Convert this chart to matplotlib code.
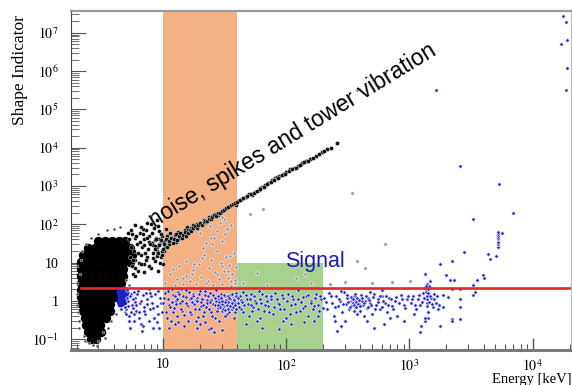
import matplotlib
matplotlib.use('Agg')
import matplotlib.pyplot as plt
from matplotlib.ticker import FixedLocator, FixedFormatter, LogLocator, NullFormatter

# ---- data: (energy keV, shape indicator) ----
x_range = [1.8, 2.05e4]
y_range = [0.052, 3.7e7]

orange_band = [10, 40]
green_band = [40, 200]
green_top = 9.5
threshold = 2.2
threshold_start = 2.15

y_ticks = [0.1, 1, 10, 1e2, 1e3, 1e4, 1e5, 1e6, 1e7]
y_ticklabels = ['$10^{-1}$', '1', '10', '$10^{2}$', '$10^{3}$', '$10^{4}$',
                '$10^{5}$', '$10^{6}$', '$10^{7}$']
x_ticks = [10, 1e2, 1e3, 1e4]
x_ticklabels = ['10', '$10^{2}$', '$10^{3}$', '$10^{4}$']

# dense black core, one row per shape value
core_rows = [
    (36, [2.97, 3.39, 3.86, 4.4, 4.92]),
    (24, [2.47, 2.81, 3.2, 3.65, 4.16, 4.74, 5.4]),
    (15.6, [2.24, 2.56, 2.92, 3.32, 3.79, 4.31, 4.92, 5.6]),
    (10.3, [2.16, 2.47, 2.81, 3.2, 3.65, 4.16, 4.74, 5.4]),
    (6.8, [2.16, 2.47, 2.81, 3.2, 3.65, 4.16, 4.74]),
    (4.46, [2.16, 2.47, 2.81, 3.2, 3.65, 4.16, 4.74]),
    (2.94, [2.16, 2.47, 2.81, 3.2, 3.65, 4.16, 4.56]),
    (1.93, [2.16, 2.47, 2.81, 3.2, 3.65, 4.16]),
    (1.27, [2.16, 2.47, 2.81, 3.2, 3.65, 4.08]),
    (0.84, [2.2, 2.52, 2.87, 3.26, 3.72]),
    (0.55, [2.24, 2.56, 2.92, 3.32, 3.72]),
    (0.36, [2.33, 2.65, 3.03, 3.45]),
    (0.24, [2.37, 2.7, 3.08]),
    (0.157, [2.47, 2.81, 3.14]),
    (0.103, [2.61, 2.87]),
]

# black cloud between the core and the diagonal band
mid_points = [
    (5.6, 8), (5.8, 20), (5.9, 45), (6.0, 12), (6.2, 30), (6.3, 6), (6.5, 60), (6.6, 16),
    (6.8, 25), (7.0, 9), (7.1, 40), (7.3, 70), (7.4, 14), (7.6, 22), (7.8, 50), (8.0, 7),
    (8.1, 32), (8.3, 18), (8.5, 80), (8.6, 11), (8.8, 45), (9.0, 25), (9.2, 6), (9.4, 65),
    (9.6, 14), (9.8, 35), (10.0, 9), (10.3, 20), (10.6, 75), (5.5, 70), (6.0, 95), (7.5, 110),
    (5.2, 60), (9.0, 130), (5.7, 5), (6.4, 10), (6.9, 55), (7.7, 35), (8.4, 28), (9.3, 40),
    (5.3, 40), (5.5, 25), (5.7, 12), (5.9, 7), (6.1, 50), (6.3, 18), (6.5, 35), (6.7, 9),
    (6.9, 75), (7.1, 28), (7.3, 12), (7.5, 45), (7.7, 8), (7.9, 30), (8.1, 60), (8.3, 13),
    (8.6, 38), (8.9, 20), (9.2, 90), (9.5, 10), (9.8, 50), (5.4, 14), (6.0, 4.5), (7.0, 5.5),
    (8.0, 100), (6.6, 85), (5.6, 55), (7.2, 18), (8.7, 27), (9.9, 16),
]

# diagonal "noise, spikes and tower vibration" band
band_points = [
    (8.6, 22), (8.8, 40), (9.0, 15), (9.3, 30), (9.6, 55), (9.8, 20), (10.2, 35), (10.5, 26),
    (10.8, 48), (11.2, 30), (11.5, 60), (12.0, 40), (12.5, 52), (12.8, 35), (13.3, 62),
    (13.7, 45), (14.5, 55), (15.2, 70), (15.8, 85), (16.3, 62), (17.0, 80), (17.5, 95),
    (18.5, 90), (19.5, 110), (20.5, 100), (21.5, 130), (22.5, 115), (23.5, 150), (25, 160),
    (26.5, 185), (28, 170), (29.5, 210), (31, 230), (33, 270), (35, 300), (37, 340), (39, 320),
    (41, 400), (44, 450), (47, 520), (50, 600), (53, 580), (56, 700), (60, 800), (64, 950),
    (68, 1050), (72, 1200), (77, 1400), (82, 1600), (88, 1800), (94, 2000), (100, 2300),
    (108, 2700), (116, 3000), (124, 3400), (135, 4000), (145, 4500), (156, 5000), (175, 6000),
    (195, 7500), (215, 9000), (11.0, 42), (14.0, 60), (16.0, 70), (19.0, 100), (24.0, 140),
    (27.0, 180), (34.0, 280), (45.0, 480), (62.0, 900), (85.0, 1700),
    (9.2, 18), (9.4, 28), (9.7, 38), (10.0, 22), (10.3, 30), (10.6, 40), (10.9, 25), (11.3, 36),
    (11.7, 45), (12.1, 32), (12.4, 42), (12.8, 55), (13.1, 38), (13.5, 48), (13.9, 58),
    (14.3, 44), (14.7, 52), (15.1, 64), (15.5, 50), (16.0, 60), (16.5, 72), (17.0, 66),
    (17.6, 78), (18.2, 88), (18.8, 80), (19.4, 95), (20.0, 105), (20.7, 98), (21.4, 115),
    (22.1, 125), (22.8, 118), (23.6, 140), (24.4, 135), (25.2, 155), (26.0, 170), (27.0, 165),
    (28.0, 195), (29.0, 200), (30.0, 225), (31.5, 240), (32.5, 260), (34, 285), (35.5, 310),
    (37, 330), (38.5, 360), (40, 380), (42, 420), (45, 480), (48, 540), (52, 620), (55, 650),
    (58, 760), (62, 850), (66, 960), (70, 1100), (75, 1250), (80, 1400), (86, 1650), (92, 1900),
    (98, 2100), (105, 2400), (112, 2700), (120, 3000), (130, 3500), (140, 4100), (150, 4600),
    (165, 5400), (185, 6800), (205, 8000), (230, 10000), (260, 13000),
]

# sparse black points around the core
halo_points = [
    (2.0, 1.5), (2.02, 3), (2.05, 0.5), (2.0, 8), (2.1, 0.2), (2.15, 12), (2.3, 0.12),
    (2.5, 0.08), (2.7, 0.07), (3.0, 0.09), (3.3, 0.15), (3.6, 0.2), (2.2, 20), (2.4, 30),
    (2.6, 45), (3.0, 55), (3.5, 70), (4.0, 75), (4.5, 85), (3.8, 0.3), (4.2, 0.45), (2.08, 0.3),
    (2.0, 0.8), (2.12, 5), (5.0, 3.5), (5.3, 2.6), (4.9, 0.5), (2.9, 0.065), (3.4, 0.11),
    (2.35, 0.09),
]

# grey points above the threshold and far outliers
grey_points = [
    (12.1, 6.8), (15.4, 4.5), (17.1, 5), (20.7, 13), (21.1, 24), (25, 30), (27.4, 5), (30, 8),
    (33.7, 6), (36, 3.3), (38.4, 3), (23.2, 3.3), (14.5, 2.8), (13, 3.7), (27.5, 66), (29, 106),
    (31.5, 135), (24.5, 43), (30.5, 36), (22.5, 32), (33, 74), (58, 5.3), (142, 5), (51, 180),
    (65, 245), (375, 10.9), (630, 30), (435, 7.2), (500, 2.9), (226, 2.8), (300, 3.1),
    (720, 3.1), (1010, 3.3), (18, 9), (35, 15),
    (10.5, 3), (11.5, 5), (12.5, 2.6), (13.5, 8), (14.5, 4), (15.5, 11), (16.5, 3.2),
    (17.5, 6.5), (18.5, 2.8), (19.5, 9), (20.5, 4.2), (21.5, 16), (22.5, 3), (23.5, 7),
    (24.5, 12), (25.5, 2.6), (26.5, 5.5), (27.5, 20), (28.5, 3.8), (29.5, 10), (30.5, 2.7),
    (31.5, 6), (32.5, 14), (33.5, 4), (34.5, 8.5), (35.5, 2.5), (36.5, 5), (37.5, 18),
    (38.5, 3.5), (39.5, 7.5), (26, 45), (32, 55), (24, 90), (36, 95), (30, 150), (20, 60),
    (45, 3), (70, 2.6), (120, 4), (160, 3), (375, 3.2e5), (340, 640),
]

# solid blue patch right next to the black core
blue_core = [
    (4.4, 1.0), (4.5, 1.4), (4.6, 1.8), (4.7, 1.1), (4.8, 1.6), (4.5, 0.85), (4.9, 1.3),
    (4.4, 1.7), (4.7, 0.9), (5.0, 1.7), (4.6, 1.2), (4.8, 2.0), (4.5, 1.1), (4.6, 1.5),
    (4.75, 1.25), (4.85, 0.95), (4.95, 1.45),
]

# blue population below and around the threshold
blue_points = [
    # next to the core
    (5.0, 0.6), (5.2, 1.0), (5.3, 0.4), (5.5, 1.5), (5.6, 0.8), (5.8, 0.3), (6.0, 1.2),
    (6.1, 0.55), (6.3, 1.8), (6.5, 0.9), (6.6, 0.25), (6.9, 1.4), (7.0, 0.7), (7.2, 0.45),
    (7.5, 1.1), (7.7, 2.0), (7.9, 0.6), (8.2, 0.9), (8.5, 0.35), (8.7, 1.5), (9.0, 0.75),
    (9.3, 0.2), (9.5, 1.2), (9.8, 0.5), (5.4, 0.2), (6.8, 0.16), (7.8, 0.3), (5.1, 1.9),
    (5.9, 0.95), (6.4, 0.5), (8.0, 1.3), (9.1, 1.8), (5.7, 0.65), (7.3, 1.6), (8.9, 0.28),
    (8.3, 0.2), (5.1, 1.2), (5.25, 0.75), (5.4, 1.35), (5.5, 0.5), (5.7, 1.1), (5.85, 0.45),
    (6.05, 0.8), (6.2, 1.5), (6.45, 0.35), (6.7, 1.0), (7.1, 0.55), (7.4, 0.85), (7.9, 1.6),
    (8.4, 0.65), (9.2, 0.45), (9.7, 0.9), (5.3, 0.3), (6.9, 0.22), (4.9, 0.7), (5.0, 0.45),
    (4.6, 0.6), (5.8, 1.7),
    # orange band
    (10.3, 1.2), (10.6, 0.5), (11.0, 1.8), (11.3, 0.8), (11.6, 0.3), (12.0, 1.4), (12.3, 0.65),
    (12.7, 1.0), (13.0, 0.4), (13.4, 1.7), (13.8, 0.9), (14.2, 0.55), (14.6, 1.3), (15.0, 0.22),
    (15.5, 1.9), (16.0, 0.75), (16.5, 1.1), (17.0, 0.45), (17.5, 1.5), (18.0, 0.85), (18.5, 0.3),
    (19.0, 1.2), (19.5, 0.6), (20.0, 1.8), (20.6, 0.95), (21.2, 0.4), (21.8, 1.4), (22.4, 0.7),
    (23.0, 1.05), (23.6, 0.18), (24.2, 1.6), (24.8, 0.5), (25.4, 0.85), (26.0, 1.25), (26.6, 0.35),
    (27.2, 1.9), (27.8, 0.65), (28.4, 1.1), (29.0, 0.8), (29.6, 1.5), (30.2, 0.55), (30.8, 1.0),
    (31.4, 0.75), (32.0, 1.3), (32.6, 0.9), (33.2, 0.45), (33.8, 1.15), (34.4, 0.7), (35.0, 1.4),
    (35.6, 0.95), (36.2, 0.6), (36.8, 1.2), (37.4, 0.8), (38.0, 1.0), (38.6, 0.5), (39.2, 1.6),
    (34.0, 0.85), (31.0, 0.62), (36.0, 1.05), (33.0, 1.0), (12.5, 0.25), (18.8, 0.2), (26.0, 0.15),
    (14.0, 2.0), (22.0, 0.28), (37.0, 0.7), (35.5, 1.1), (32.5, 0.8), (29.5, 1.25), (39.5, 0.9),
    (10.1, 0.9), (10.4, 1.6), (10.8, 0.35), (11.1, 1.1), (11.5, 0.7), (11.9, 2.0), (12.2, 0.5),
    (12.6, 1.3), (12.9, 0.85), (13.3, 0.28), (13.6, 1.5), (14.0, 0.6), (14.4, 1.0), (14.9, 0.42),
    (15.3, 1.25), (15.7, 0.8), (16.2, 1.7), (16.7, 0.52), (17.2, 0.95), (17.7, 1.35), (18.2, 0.62),
    (18.7, 1.05), (19.2, 0.38), (19.7, 1.55), (20.3, 0.72), (20.9, 1.15), (21.5, 0.5), (22.1, 1.8),
    (22.7, 0.88), (23.3, 1.3), (23.9, 0.6), (24.5, 1.05), (25.1, 0.4), (25.7, 1.45), (26.3, 0.78),
    (26.9, 1.0), (27.5, 0.55), (28.1, 1.35), (28.7, 0.95), (29.3, 0.68), (29.9, 1.2), (30.5, 0.85),
    (31.1, 1.45), (31.7, 0.58), (32.3, 1.05), (32.9, 0.78), (33.5, 1.3), (34.1, 0.95), (34.7, 0.52),
    (35.3, 1.1), (35.9, 0.8), (36.5, 1.5), (37.1, 0.68), (37.7, 1.15), (38.3, 0.88), (38.9, 1.3),
    (39.5, 0.62), (36.3, 0.9), (37.9, 1.05), (35.2, 0.72), (34.5, 1.2), (38.8, 0.78), (33.8, 0.6),
    (31.8, 0.92), (30.0, 1.0), (28.0, 0.8), (26.5, 1.2), (24.0, 0.95), (21.0, 0.8), (19.0, 1.0),
    (17.0, 1.2), (15.5, 0.9), (13.0, 1.1), (11.8, 0.95), (16.0, 0.3), (20.0, 0.25), (28.5, 0.3),
    (32.0, 0.4), (37.5, 0.35), (24.8, 0.2), (11.2, 0.19), (30.0, 0.17),
    # green band
    (41, 0.9), (42, 1.3), (43, 0.6), (45, 1.7), (46, 0.8), (48, 1.1), (50, 0.4), (52, 1.5),
    (54, 0.7), (56, 1.0), (58, 0.3), (60, 1.8), (63, 0.9), (66, 0.55), (69, 1.3), (72, 0.75),
    (75, 1.1), (78, 0.45), (82, 1.6), (86, 0.9), (90, 0.6), (94, 1.2), (99, 0.35), (104, 1.5),
    (109, 0.8), (114, 1.1), (120, 0.5), (126, 1.9), (132, 0.95), (138, 0.65), (145, 1.3),
    (152, 0.4), (160, 1.0), (168, 0.75), (176, 1.5), (185, 0.55), (193, 1.1), (47, 0.25),
    (64, 0.2), (110, 0.25), (88, 0.18), (170, 0.3),
    (40.5, 1.2), (41.5, 0.7), (43.5, 1.05), (44.5, 0.5), (47, 1.4), (49, 0.85), (51, 1.15),
    (53, 0.55), (55, 1.35), (57, 0.9), (59, 0.6), (61, 1.1), (64, 1.5), (67, 0.8), (70, 1.0),
    (73, 0.5), (76, 1.3), (80, 0.7), (84, 1.15), (88, 0.85), (92, 1.4), (97, 0.6), (102, 1.0),
    (107, 0.45), (112, 1.3), (118, 0.85), (124, 1.1), (130, 0.55), (136, 1.25), (142, 0.75),
    (150, 1.45), (158, 0.9), (165, 0.6), (173, 1.2), (181, 0.8), (190, 1.35), (198, 0.65),
    (44, 0.95), (52, 0.8), (62, 0.35), (95, 0.3), (140, 0.28), (180, 0.4),
    # 200 keV to 1 MeV
    (205, 1.2), (215, 0.6), (225, 1.6), (235, 0.9), (245, 0.4), (255, 1.3), (265, 0.75),
    (275, 1.0), (285, 0.5), (295, 1.7), (305, 0.85), (315, 1.2), (325, 0.6), (335, 1.0),
    (345, 0.8), (355, 1.3), (365, 0.7), (375, 1.1), (385, 0.9), (395, 0.55), (405, 1.4),
    (420, 0.8), (435, 1.0), (450, 0.65), (465, 1.2), (480, 0.9), (500, 0.45), (520, 1.5),
    (540, 0.8), (560, 1.1), (580, 0.6), (600, 1.3), (630, 0.9), (660, 0.5), (690, 1.2),
    (720, 0.75), (760, 1.0), (800, 0.4), (850, 1.4), (900, 0.8), (950, 1.1), (360, 1.0),
    (370, 0.9), (380, 1.05), (350, 0.95), (340, 1.15), (390, 0.85), (410, 1.0), (300, 0.3),
    (450, 0.3), (620, 0.25), (280, 0.22), (520, 0.2), (260, 0.166),
    (210, 0.95), (230, 1.3), (250, 0.7), (270, 1.15), (290, 0.85), (310, 1.4), (320, 0.95),
    (330, 0.7), (338, 1.25), (346, 0.88), (352, 1.1), (358, 0.78), (362, 1.3), (368, 0.95),
    (372, 0.68), (378, 1.2), (384, 0.85), (392, 1.05), (400, 0.75), (415, 1.2), (430, 0.9),
    (445, 1.35), (460, 0.7), (475, 1.05), (490, 0.8), (510, 1.25), (530, 0.6), (555, 0.95),
    (575, 1.3), (595, 0.7), (615, 1.0), (645, 1.35), (675, 0.8), (705, 1.1), (740, 0.6),
    (780, 1.25), (820, 0.9), (870, 1.1), (920, 0.65), (970, 1.3), (355, 0.55), (365, 1.5),
    (375, 0.45), (430, 0.4), (280, 1.8), (600, 1.9), (480, 1.7), (250, 0.3), (700, 0.35),
    (900, 0.3),
    # 1 to 2 MeV
    (1030, 0.9), (1080, 1.3), (1130, 0.6), (1180, 1.1), (1230, 0.8), (1300, 1.6), (1350, 2.2),
    (1380, 2.8), (1400, 1.9), (1420, 1.4), (1400, 1.1), (1450, 2.5), (1380, 0.9), (1410, 0.5),
    (1430, 0.35), (1500, 1.2), (1550, 0.7), (1600, 1.5), (1650, 0.9), (1700, 0.6), (1350, 0.3),
    (1250, 0.22), (1100, 0.45), (1480, 3.2), (1330, 5.0), (1330, 0.36), (1220, 0.15),
    (1770, 0.22), (1050, 1.1), (1120, 0.8), (1200, 1.4), (1270, 0.95), (1320, 1.2), (1360, 1.7),
    (1390, 1.3), (1410, 2.0), (1430, 1.6), (1440, 0.95), (1460, 1.35), (1520, 0.85),
    (1580, 1.1), (1680, 1.3), (1750, 0.8), (1400, 0.75), (1370, 2.4),
    # high energy tail
    (1770, 9.1), (2210, 10.9), (2760, 18.7), (1970, 4.7), (2130, 3.5), (2300, 3.5), (3270, 135),
    (3520, 3.5), (3940, 4.7), (4020, 3.96), (4320, 16.6), (4490, 12.3), (5020, 14.8),
    (5200, 25), (5200, 30), (5200, 35), (5200, 40), (5200, 45), (5200, 50), (5200, 56),
    (5200, 64), (5600, 58), (6920, 193), (5300, 1100), (3270, 2.6), (3430, 1.71), (3270, 1.43),
    (2210, 2.05), (2600, 2.05), (1870, 1.43), (2050, 1.27), (2210, 0.34), (2210, 0.29),
    (1870, 0.7), (2570, 1.13), (2600, 0.7), (2570, 0.34), (1640, 3.2e5), (2600, 3400),
    (17500, 2.8e7), (18600, 1.9e7), (16900, 5e6), (19200, 6.3e6), (19000, 1.2e6), (18600, 3.2e5),
]

core_energy = [e for s, row in core_rows for e in row]
core_shape = [s for s, row in core_rows for e in row]


def split(points):
    return [p[0] for p in points], [p[1] for p in points]


# ---- figure ----
plt.rcParams['font.family'] = ['Liberation Serif', 'DejaVu Serif']
plt.rcParams['mathtext.fontset'] = 'stix'

fig = plt.figure(figsize=(5.72, 3.85), dpi=100)
ax = fig.add_axes([71 / 572, 35 / 385, 500 / 572, 339 / 385])
ax.set_xscale('log')
ax.set_yscale('log')
ax.set_xlim(x_range)
ax.set_ylim(y_range)

ax.axvspan(orange_band[0], orange_band[1], color='#f4b183', lw=0, zorder=1)
ax.fill_between(green_band, y_range[0], green_top, color='#a9d18e', lw=0, zorder=1)

halo = '#eeeef6'
ax.scatter(core_energy, core_shape, s=46, c='black', lw=0, zorder=2)
ax.scatter(*split(mid_points), s=8, c='black', edgecolors=halo, lw=0.3, zorder=2)
ax.scatter(*split(band_points), s=9, c='#111111', edgecolors=halo, lw=0.3, zorder=2)
ax.scatter(*split(halo_points), s=4, c='#333333', edgecolors=halo, lw=0.3, zorder=2)
ax.scatter(*split(grey_points), s=6, c='#8a8a8a', edgecolors=halo, lw=0.6, zorder=2)
ax.scatter(*split(blue_core), s=20, c='#2020c8', lw=0, zorder=2)
ax.scatter(*split(blue_points), s=6, c='#2424c8', edgecolors=halo, lw=0.5, zorder=2)

ax.plot([threshold_start, x_range[1]], [threshold, threshold], color='#e8262a', lw=1.9, zorder=3)

ax.text(112, 21000, 'noise, spikes and tower vibration', family=['Liberation Sans', 'DejaVu Sans'],
        fontsize=16.5, rotation=31.5, ha='center', va='center', zorder=4)
ax.text(173, 10.9, 'Signal', family=['Liberation Sans', 'DejaVu Sans'], fontsize=15.5,
        color='#1c1cb4', ha='center', va='center', zorder=4)

# ROOT-like axes
ax.yaxis.set_major_locator(FixedLocator(y_ticks))
ax.yaxis.set_major_formatter(FixedFormatter(y_ticklabels))
ax.xaxis.set_major_locator(FixedLocator(x_ticks))
ax.xaxis.set_major_formatter(FixedFormatter(x_ticklabels))
ax.yaxis.set_minor_locator(LogLocator(base=10, subs=range(2, 10), numticks=20))
ax.xaxis.set_minor_locator(LogLocator(base=10, subs=range(2, 10), numticks=20))
ax.yaxis.set_minor_formatter(NullFormatter())
ax.xaxis.set_minor_formatter(NullFormatter())
ax.tick_params(axis='y', which='major', direction='in', length=11, width=0.8, color='#555555',
               pad=9, labelsize=10)
ax.tick_params(axis='y', which='minor', direction='in', length=6, width=0.6, color='#555555')
ax.tick_params(axis='x', which='major', direction='in', length=9, width=1.0, color='#555555',
               pad=6, labelsize=10)
ax.tick_params(axis='x', which='minor', direction='in', length=4.5, width=0.8, color='#555555')

ax.spines['top'].set_color('#9a9a9a')
ax.spines['top'].set_linewidth(1.6)
ax.spines['bottom'].set_color('#7a7a7a')
ax.spines['bottom'].set_linewidth(2.2)
ax.spines['left'].set_color('#444444')
ax.spines['left'].set_linewidth(0.8)
ax.spines['right'].set_color('#bbbbbb')
ax.spines['right'].set_linewidth(0.8)

fig.text(20 / 572, 1 - 70 / 385, 'Shape Indicator', rotation=90, ha='center', va='center',
         fontsize=12.5)
fig.text(1.0, 1 - 379 / 385, 'Energy [keV]', ha='right', va='center', fontsize=10.5)

fig.savefig('out.png', dpi=100)
